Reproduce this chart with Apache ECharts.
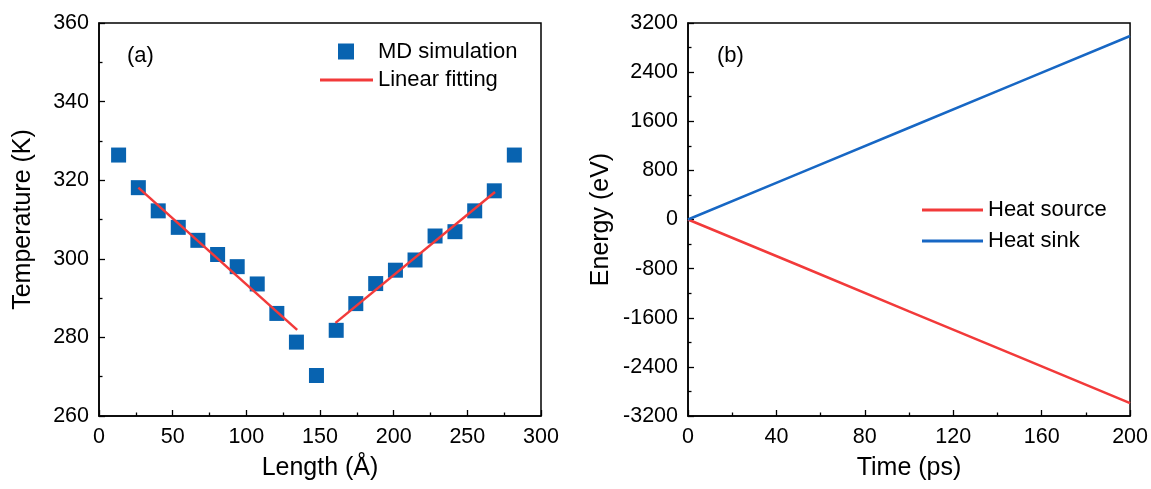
<!DOCTYPE html>
<html>
<head>
<meta charset="utf-8">
<script src="https://cdn.jsdelivr.net/npm/echarts@6/dist/echarts.min.js"></script>
<style>
  html, body { margin: 0; padding: 0; background: #fff; }
  #chart { width: 1151px; height: 489px; }
</style>
</head>
<body>
<div id="chart"></div>
<script>
// Panel (a): temperature profile along the sample
const lengthA = [13.3, 26.7, 40.2, 53.8, 67.1, 80.5, 93.8, 107.4, 120.7, 134.0, 147.6,
                 161.0, 174.3, 187.8, 201.2, 214.5, 228.1, 241.6, 255.0, 268.3, 281.9];
const tempK = [326.4, 318.1, 312.2, 308.0, 304.7, 301.1, 298.0, 293.6, 286.1, 278.8, 270.3,
               281.8, 288.6, 293.7, 297.1, 299.7, 305.8, 306.9, 312.2, 317.3, 326.4];
const fitLeftX = [26.7, 134.5];
const fitLeftY = [318.1, 281.9];
const fitRightX = [160.5, 268.8];
const fitRightY = [283.7, 317.0];

// Panel (b): accumulated energy of the thermostatted regions
const timePs = [0, 50, 100, 150, 200];
const heatSource = [0, -745, -1495, -2240, -2990];
const heatSink = [0, 747, 1494, 2241, 2988];

const FONT = "'Liberation Sans', Arial, sans-serif";
const BLUE_MARK = '#0863B0';
const RED = '#F23A3A';
const BLUE_LINE = '#1767C4';

const pairs = (xs, ys) => xs.map((x, i) => [x, ys[i]]);

function axisBase(extra) {
  return Object.assign({
    axisLine: { show: true, onZero: false, lineStyle: { color: '#000', width: 1.5 } },
    axisTick: { show: true, inside: true, length: 6, lineStyle: { color: '#000', width: 1.3 } },
    minorTick: { show: true, splitNumber: 2, length: 3.5, lineStyle: { color: '#000', width: 1.3 } },
    splitLine: { show: false },
    axisLabel: { color: '#000', fontSize: 21.5, fontFamily: FONT, margin: 10, formatter: v => String(v) },
    nameLocation: 'middle',
    nameTextStyle: { color: '#000', fontSize: 25, fontFamily: FONT }
  }, extra);
}

const legendText = { fontSize: 22, color: '#000', fontFamily: FONT, lineHeight: 26 };

const chart = echarts.init(document.getElementById('chart'));
chart.setOption({
  animation: false,
  backgroundColor: '#fff',
  textStyle: { fontFamily: FONT },
  grid: [
    { left: 99, right: 610, top: 23, bottom: 73, show: true, borderColor: '#000', borderWidth: 1.5, backgroundColor: 'transparent' },
    { left: 688, right: 20, top: 23, bottom: 73, show: true, borderColor: '#000', borderWidth: 1.5, backgroundColor: 'transparent' }
  ],
  xAxis: [
    axisBase({ type: 'value', gridIndex: 0, min: 0, max: 300, interval: 50, name: 'Length (Å)', nameGap: 40 }),
    axisBase({ type: 'value', gridIndex: 1, min: 0, max: 200, interval: 40, name: 'Time (ps)', nameGap: 40 })
  ],
  yAxis: [
    axisBase({ type: 'value', gridIndex: 0, min: 260, max: 360, interval: 20, name: 'Temperature (K)', nameGap: 63 }),
    axisBase({ type: 'value', gridIndex: 1, min: -3200, max: 3200, interval: 800, name: 'Energy (eV)', nameGap: 74 })
  ],
  title: [
    { text: '(a)', left: 127, top: 45, padding: 0, textStyle: { fontSize: 22, fontWeight: 'normal', color: '#000', fontFamily: FONT } },
    { text: '(b)', left: 717, top: 45, padding: 0, textStyle: { fontSize: 22, fontWeight: 'normal', color: '#000', fontFamily: FONT } }
  ],
  legend: [
    {
      data: [{ name: 'MD simulation', icon: 'rect' }],
      left: 338, top: 38.5, padding: 0, itemWidth: 16, itemHeight: 16,
      textStyle: Object.assign({ padding: [0, 0, 0, 19] }, legendText)
    },
    {
      data: [{ name: 'Linear fitting', icon: 'rect' }],
      left: 320, top: 67, padding: 0, itemWidth: 53, itemHeight: 3,
      textStyle: legendText
    },
    {
      data: [{ name: 'Heat source', icon: 'rect' }, { name: 'Heat sink', icon: 'rect' }],
      orient: 'vertical', left: 922, top: 197, padding: 0, itemWidth: 61, itemHeight: 3, itemGap: 5,
      textStyle: legendText
    }
  ],
  series: [
    {
      name: 'MD simulation', type: 'scatter', xAxisIndex: 0, yAxisIndex: 0,
      symbol: 'rect', symbolSize: 15, itemStyle: { color: BLUE_MARK, opacity: 1 },
      data: pairs(lengthA, tempK)
    },
    {
      name: 'Linear fitting', type: 'line', xAxisIndex: 0, yAxisIndex: 0,
      symbol: 'none', lineStyle: { color: RED, width: 2.5 }, itemStyle: { color: RED },
      data: pairs(fitLeftX, fitLeftY), z: 3
    },
    {
      name: 'Linear fitting', type: 'line', xAxisIndex: 0, yAxisIndex: 0,
      symbol: 'none', lineStyle: { color: RED, width: 2.5 }, itemStyle: { color: RED },
      data: pairs(fitRightX, fitRightY), z: 3
    },
    {
      name: 'Heat source', type: 'line', xAxisIndex: 1, yAxisIndex: 1,
      symbol: 'none', lineStyle: { color: RED, width: 2.5 }, itemStyle: { color: RED },
      data: pairs(timePs, heatSource)
    },
    {
      name: 'Heat sink', type: 'line', xAxisIndex: 1, yAxisIndex: 1,
      symbol: 'none', lineStyle: { color: BLUE_LINE, width: 2.5 }, itemStyle: { color: BLUE_LINE },
      data: pairs(timePs, heatSink)
    }
  ]
});
</script>
</body>
</html>
